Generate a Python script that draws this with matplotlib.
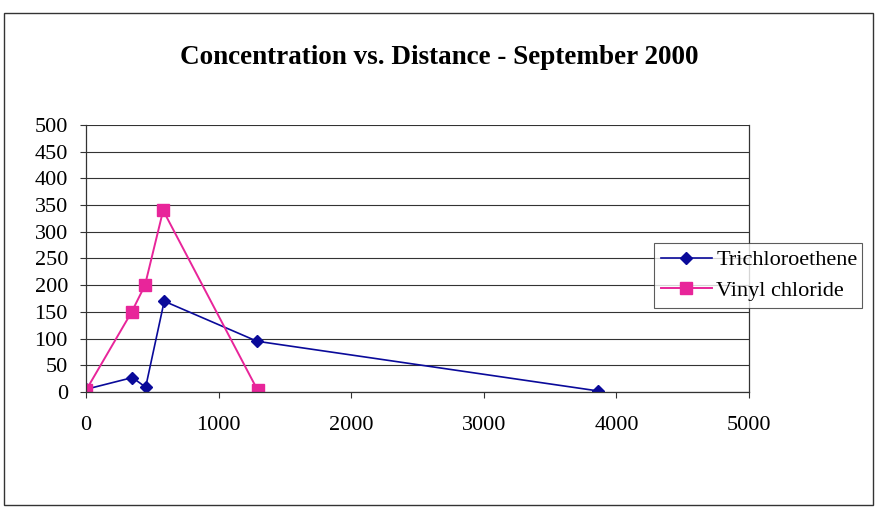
import numpy as np
import matplotlib.pyplot as plt
from matplotlib.patches import Rectangle

# distance (ft) and concentration values, September 2000
tce_dist = [0, 350, 450, 590, 1290, 3860]
tce_conc = [5, 27, 9, 170, 95, 2]

vc_dist = [0, 345, 445, 582, 1295]
vc_conc = [3, 150, 200, 340, 3]

x_ticks = [0, 1000, 2000, 3000, 4000, 5000]
y_ticks = list(range(0, 501, 50))

plt.rcParams['font.family'] = ['Liberation Serif', 'DejaVu Serif']

fig = plt.figure(figsize=(8.79, 5.09), dpi=100)
ax = fig.add_axes([0.0978, 0.2299, 0.7544, 0.5245])

# outer chart border
fig.patches.append(Rectangle((0.004, 0.008), 0.989, 0.966, transform=fig.transFigure,
                             fill=False, edgecolor='#333333', linewidth=1.0))

ax.plot(tce_dist, tce_conc, color='#0A0A9A', linewidth=1.2, marker='D',
        markersize=6.5, label='Trichloroethene')
ax.plot(vc_dist, vc_conc, color='#E8259A', linewidth=1.4, marker='s',
        markersize=8.5, label='Vinyl chloride')

ax.set_xlim(0, 5000)
ax.set_ylim(0, 500)
ax.set_xticks(x_ticks)
ax.set_yticks(y_ticks)
ax.tick_params(axis='both', labelsize=16, length=4, width=0.8, color='#333333')
ax.tick_params(axis='x', pad=13)
ax.tick_params(axis='y', pad=9)
ax.yaxis.grid(True, color='#333333', linewidth=0.8)
ax.set_axisbelow(True)
for side in ['left', 'bottom', 'right', 'top']:
    ax.spines[side].set_color('#333333')
    ax.spines[side].set_linewidth(0.9)
ax.spines['top'].set_visible(False)

fig.text(0.5, 0.887, 'Concentration vs. Distance - September 2000',
         ha='center', va='center', fontsize=19.5, fontweight='bold')

leg = ax.legend(loc='center', bbox_to_anchor=(0.857, 0.311, 0.314, 0.251),
                mode='expand', fontsize=16, frameon=True, fancybox=False,
                borderaxespad=0, handlelength=2.3, handletextpad=0.2,
                borderpad=0.3, labelspacing=0.45)
leg.get_frame().set_edgecolor('#333333')
leg.get_frame().set_linewidth(0.8)

fig.savefig('out.png', dpi=100)
